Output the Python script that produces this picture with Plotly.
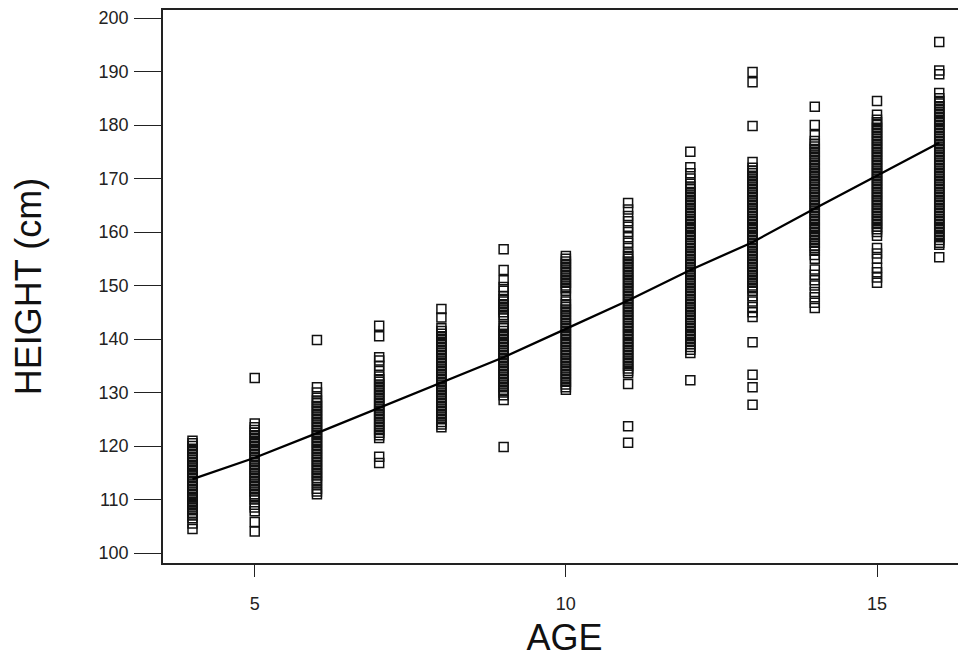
import plotly.graph_objects as go

ages = [4, 5, 6, 7, 8, 9, 10, 11, 12, 13, 14, 15, 16]

h4 = [104.5, 105.5, 106.5, 107, 107.5, 108, 108.5, 109, 109.2, 109.5, 110, 110.2, 110.5, 111, 111.5, 112,
      112.5, 113, 113.5, 114, 114.5, 115, 115.5, 116, 116.2, 116.5, 117, 117.5, 118, 118.5, 119, 119.5,
      120, 120.5, 121]
h5 = [104, 105.8, 107.8, 108.5, 109, 110, 110.5, 111, 111.5, 112, 112.5, 113, 113.5, 114, 114.5, 115, 115.5,
      116, 116.5, 117, 117.5, 118, 118.5, 119, 119.5, 120, 120.5, 121, 121.5, 122, 122.5, 123, 123.5, 124.2,
      132.7]
h6 = [111, 111.5, 112, 113, 113.5, 114, 114.5, 115, 115.5, 116, 116.5, 117, 117.5, 118, 118.5, 119, 119.5,
      120, 120.5, 121, 121.5, 122, 122.5, 123, 123.5, 124, 124.5, 125, 125.5, 126, 126.5, 127, 127.5, 128,
      128.5, 129, 130, 131, 139.8]
h7 = [116.8, 118, 121.5, 122, 122.5, 123, 123.5, 124, 124.5, 125, 125.5, 126, 126.5, 127, 127.5, 128, 128.5,
      129, 129.5, 130, 130.5, 131, 131.5, 132, 132.5, 133, 134, 135, 136, 136.6, 140.5, 142.5]
h8 = [123.5, 124, 124.5, 125, 125.5, 126, 126.5, 127, 127.5, 128, 128.5, 129, 129.5, 130, 130.5, 131, 131.5,
      132, 132.5, 133, 133.5, 134, 134.5, 135, 135.5, 136, 136.5, 137, 137.5, 138, 138.5, 139, 139.5, 140,
      140.5, 141, 141.5, 142, 144, 145.6]
h9 = [119.8, 128.6, 129.5, 130, 130.5, 131, 131.5, 132, 132.5, 133, 133.5, 134, 134.5, 135, 135.5, 136, 136.5,
      137, 137.5, 138, 138.5, 139, 139.5, 140, 140.5, 141, 141.5, 142, 142.5, 144, 144.5, 145, 145.5, 146,
      146.5, 147, 147.5, 148, 149, 149.7, 151, 152.9, 156.8]
h10 = [130.5, 131, 131.5, 132, 132.5, 133, 133.5, 134, 134.5, 135, 135.5, 136, 136.5, 137, 137.5, 138, 138.5,
       139, 139.5, 140, 140.5, 141, 141.5, 142, 142.5, 143, 143.5, 144, 144.5, 145, 145.5, 146, 146.5, 147,
       148, 149, 149.5, 150, 150.5, 151, 151.5, 152, 152.5, 153, 153.5, 154, 154.5, 155, 155.5]
h11 = [120.6, 123.7, 131.6, 133.6, 134, 134.5, 135, 135.5, 136, 136.5, 137, 137.5, 138, 138.5, 139, 139.5,
       140, 140.5, 141, 141.5, 142, 142.5, 143, 143.5, 144, 144.5, 145, 145.5, 146, 146.5, 147, 147.5, 148,
       148.5, 149, 149.5, 150, 150.5, 151, 151.5, 152, 152.5, 153, 153.5, 154, 154.5, 155, 155.5, 156, 157,
       158, 159, 160, 161, 162, 163, 164.2, 165.4]
h12 = [132.3, 137.4, 138, 138.5, 139, 139.5, 140, 140.5, 141, 141.5, 142, 142.5, 143, 143.5, 144, 144.5, 145,
       145.5, 146, 146.5, 147, 147.5, 148, 148.5, 149, 149.5, 150, 150.5, 151, 151.5, 152, 152.5, 153, 153.5,
       154, 154.5, 155, 155.5, 156, 156.5, 157, 157.5, 158, 158.5, 159, 159.5, 160, 160.5, 161, 161.5, 162,
       162.5, 163, 163.5, 164, 164.5, 165, 165.5, 166, 166.5, 167, 167.5, 168, 168.5, 169, 170, 171, 172.1,
       175]
h13 = [127.7, 131, 133.3, 139.4, 144.1, 145, 146, 147, 148, 149, 149.5, 150, 150.5, 151, 151.5, 152, 152.5,
       153, 153.5, 154, 154.5, 155, 155.5, 156, 156.5, 157, 157.5, 158, 158.5, 159, 159.5, 160, 160.5, 161,
       161.5, 162, 162.5, 163, 163.5, 164, 164.5, 165, 165.5, 166, 166.5, 167, 167.5, 168, 168.5, 169, 169.5,
       170, 170.5, 171, 171.5, 172, 173.1, 179.8, 188, 189.9]
h14 = [145.8, 146.8, 147.8, 148.8, 150, 151, 152, 153, 155, 155.7, 156.5, 157, 157.5, 158, 158.5, 159, 159.5,
       160, 160.5, 161, 161.5, 162, 162.5, 163, 163.5, 164, 164.5, 165, 165.5, 166, 166.5, 167, 167.5, 168,
       168.5, 169, 169.5, 170, 170.5, 171, 171.5, 172, 172.5, 173, 173.5, 174, 174.5, 175, 175.5, 176, 176.5,
       177, 178.1, 180, 183.4]
h15 = [150.5, 151.5, 152.5, 153.3, 155, 156, 157, 159.3, 160, 160.5, 161, 161.5, 162, 162.5, 163, 163.5, 164,
       164.5, 165, 165.5, 166, 166.5, 167, 167.5, 168, 168.5, 169, 169.5, 170, 170.5, 171, 171.5, 172, 172.5,
       173, 173.5, 174, 174.5, 175, 175.5, 176, 176.5, 177, 177.5, 178, 178.5, 179, 179.5, 180, 180.5, 181,
       181.9, 184.5]
h16 = [155.3, 157.6, 158, 158.5, 159, 159.5, 160, 160.5, 161, 161.5, 162, 162.5, 163, 163.5, 164, 164.5, 165,
       165.5, 166, 166.5, 167, 167.5, 168, 168.5, 169, 169.5, 170, 170.5, 171, 171.5, 172, 172.5, 173, 173.5,
       174, 174.5, 175, 175.5, 176, 176.5, 177, 177.5, 178, 178.5, 179, 179.5, 180, 180.5, 181, 181.5, 182,
       182.5, 183, 183.5, 184, 184.5, 185, 186, 189.5, 190.2, 195.5]

heights_by_age = [h4, h5, h6, h7, h8, h9, h10, h11, h12, h13, h14, h15, h16]

fit_height = [113.8, 117.8, 122.4, 127.1, 131.8, 136.6, 141.9, 147.2, 152.9, 158.1, 164.4, 170.6, 176.7]

y_ticks = [100, 110, 120, 130, 140, 150, 160, 170, 180, 190, 200]
x_ticks = [5, 10, 15]

xs, ys = [], []
for a, hs in zip(ages, heights_by_age):
    xs += [a] * len(hs)
    ys += hs

fig = go.Figure()
fig.add_trace(go.Scatter(
    x=xs, y=ys, mode="markers",
    marker=dict(symbol="square-open", size=9, color="#111", line=dict(width=1.5, color="#111")),
    showlegend=False,
))
fig.add_trace(go.Scatter(
    x=ages, y=fit_height, mode="lines",
    line=dict(color="black", width=2.3),
    showlegend=False,
))

font_family = "Liberation Sans, Arial, sans-serif"
fig.update_layout(
    width=958, height=653,
    margin=dict(l=155, r=0, t=2, b=98),
    paper_bgcolor="white", plot_bgcolor="white",
    font=dict(family=font_family, color="#1a1a1a"),
    xaxis=dict(
        range=[3.526, 16.43], tickvals=x_ticks, ticktext=[str(v) for v in x_ticks],
        ticks="outside", ticklen=12, tickwidth=1.2, tickcolor="#222",
        showline=True, linecolor="#222", linewidth=1.5, mirror=True,
        showgrid=False, zeroline=False,
        tickfont=dict(size=18, family=font_family, color="#222"),
        ticklabelstandoff=12,
        title=dict(text="AGE", font=dict(size=36, family=font_family, color="#111"), standoff=11),
    ),
    yaxis=dict(
        range=[98.13, 201.5], tickvals=y_ticks, ticktext=[str(v) for v in y_ticks],
        ticks="outside", ticklen=27, tickwidth=1.2, tickcolor="#222",
        showline=True, linecolor="#222", linewidth=1.5, mirror=False,
        showgrid=False, zeroline=False,
        tickfont=dict(size=18, family=font_family, color="#222"),
        ticklabelstandoff=2,
        title=dict(text="HEIGHT (cm)", font=dict(size=36, family=font_family, color="#111"), standoff=52),
    ),
)

fig.write_html("out.html")
